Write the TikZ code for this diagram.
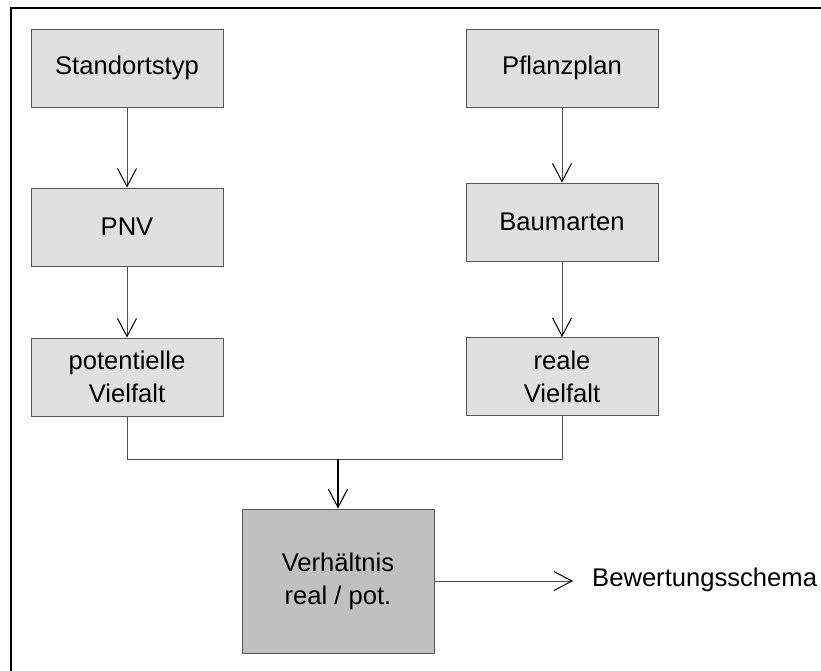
\documentclass[tikz,border=0pt]{standalone}
\usepackage{fontspec}
\setmainfont{Liberation Sans}
\usetikzlibrary{arrows.meta}
\definecolor{boxfill}{HTML}{E0E0E0}
\definecolor{keyfill}{HTML}{C0C0C0}
\definecolor{edge}{HTML}{555555}
\definecolor{wire}{HTML}{505050}
\begin{document}
\begin{tikzpicture}[x=1pt,y=-1pt,
  font=\fontsize{25.6}{33}\selectfont,
  stepbox/.style={draw=edge, line width=1pt, fill=boxfill, minimum width=192pt,
    minimum height=78pt, align=center, inner sep=0pt},
  keybox/.style={stepbox, fill=keyfill, minimum height=144pt},
  wireline/.style={draw=wire, line width=1pt},
  tip/.style={wireline, -{Straight Barb[length=18pt,width=19pt,line width=1pt,color=black]}},
  bigtip/.style={draw=black, line width=1.8pt, -{Straight Barb[length=18pt,width=19pt,line width=1.1pt,color=black]}}]
  \clip (0,0) rectangle (821,670);
  \useasboundingbox (0,0) rectangle (821,670);
  % frame around the whole sheet
  \draw[black, line width=2.2pt] (11,8) rectangle (840,690);

  % left column
  \node[stepbox] (st) at (127,68) {Standortstyp};
  \node[stepbox] (pnv) at (127,227) {PNV};
  \node[stepbox] (pv) at (127,377) {potentielle\\Vielfalt};
  % right column
  \node[stepbox] (pp) at (562,68) {Pflanzplan};
  \node[stepbox] (ba) at (562,222) {Baumarten};
  \node[stepbox] (rv) at (562,376.5) {reale\\Vielfalt};
  % ratio and result
  \node[keybox] (vh) at (338,581) {Verhältnis\\real / pot.};
  \node[anchor=base west, inner sep=0pt] (bs) at (592,586) {Bewertungsschema};
  \coordinate (j) at (338,459);

  \draw[tip] (st) -- (pnv);
  \draw[tip] (pnv) -- (pv);
  \draw[tip] (pp) -- (ba);
  \draw[tip] (ba) -- (rv);
  \draw[wireline] (pv.south) -- ++(0,43) -| (rv.south);
  \draw[bigtip] (j) -- (vh.north);
  \draw[tip, shorten >=19pt] (vh.east) -- (vh.east -| bs.west);
\end{tikzpicture}
\end{document}
